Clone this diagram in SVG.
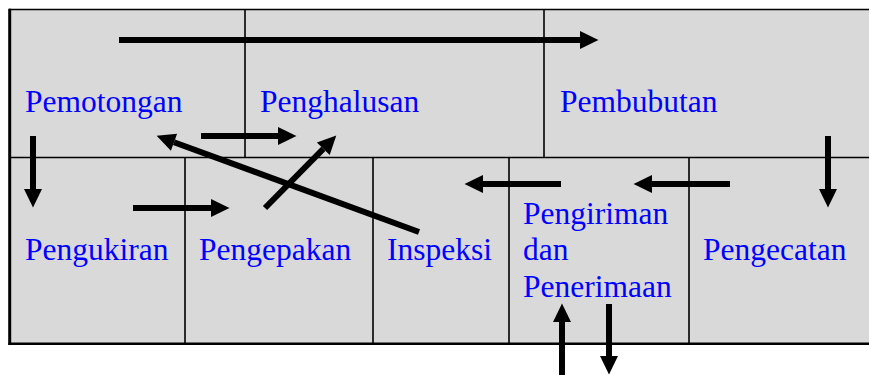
<svg xmlns="http://www.w3.org/2000/svg" width="869" height="375" viewBox="0 0 869 375">
  <style>
    .lbl { font-family: "Liberation Serif", "Times New Roman", serif; font-size: 31.5px; fill: #0000ff; }
    .grid { stroke: #000; stroke-width: 1.6; fill: none; }
    .flow { stroke: #000; stroke-width: 6; fill: none; marker-end: url(#head); }
  </style>
  <defs>
    <marker id="head" markerUnits="userSpaceOnUse" markerWidth="20" markerHeight="20" refX="0" refY="9" orient="auto" overflow="visible">
      <path d="M0,0 L18.5,9 L0,18 Z" fill="#000"/>
    </marker>
  </defs>

  <!-- table background and frame -->
  <rect x="10" y="9.5" width="859" height="334" fill="#d9d9d9"/>
  <line class="grid" x1="9" y1="9.5" x2="869" y2="9.5"/>
  <line x1="9.7" y1="8.7" x2="9.7" y2="345" stroke="#000" stroke-width="3"/>
  <line x1="8.5" y1="343.8" x2="869" y2="343.8" stroke="#000" stroke-width="2.5"/>
  <line class="grid" x1="10" y1="157.5" x2="869" y2="157.5"/>

  <g id="pemotongan">
    <text class="lbl" x="25" y="112">Pemotongan</text>
  </g>
  <g id="penghalusan">
    <line class="grid" x1="245" y1="9.5" x2="245" y2="158"/>
    <text class="lbl" x="260" y="112">Penghalusan</text>
  </g>
  <g id="pembubutan">
    <line class="grid" x1="544" y1="9.5" x2="544" y2="158"/>
    <text class="lbl" x="560" y="112">Pembubutan</text>
  </g>
  <g id="pengukiran">
    <text class="lbl" x="25" y="260">Pengukiran</text>
  </g>
  <g id="pengepakan">
    <line class="grid" x1="185" y1="157.5" x2="185" y2="343"/>
    <text class="lbl" x="199" y="260">Pengepakan</text>
  </g>
  <g id="inspeksi">
    <line class="grid" x1="373" y1="157.5" x2="373" y2="343"/>
    <text class="lbl" x="387" y="260">Inspeksi</text>
  </g>
  <g id="pengiriman-dan-penerimaan">
    <line class="grid" x1="509" y1="157.5" x2="509" y2="343"/>
    <text class="lbl" x="523" y="224">Pengiriman</text>
    <text class="lbl" x="523" y="260">dan</text>
    <text class="lbl" x="523" y="296.5">Penerimaan</text>
  </g>
  <g id="pengecatan">
    <line class="grid" x1="689" y1="157.5" x2="689" y2="343"/>
    <text class="lbl" x="703" y="260">Pengecatan</text>
  </g>

  <g id="connectors">
    <line class="flow" x1="119" y1="40" x2="580" y2="40"/>
    <line class="flow" x1="201" y1="136" x2="278" y2="136"/>
    <line class="flow" x1="419" y1="232" x2="174" y2="142.2"/>
    <line class="flow" x1="265" y1="208" x2="323.3" y2="148.8"/>
    <line class="flow" x1="33" y1="136" x2="33" y2="189"/>
    <line class="flow" x1="133" y1="208" x2="211" y2="208"/>
    <line class="flow" x1="828" y1="136" x2="828" y2="189"/>
    <line class="flow" x1="730" y1="184" x2="652" y2="184"/>
    <line class="flow" x1="561" y1="184" x2="483" y2="184"/>
    <line class="flow" x1="562" y1="375" x2="562" y2="322"/>
    <line class="flow" x1="609" y1="304" x2="609" y2="356"/>
  </g>
</svg>
